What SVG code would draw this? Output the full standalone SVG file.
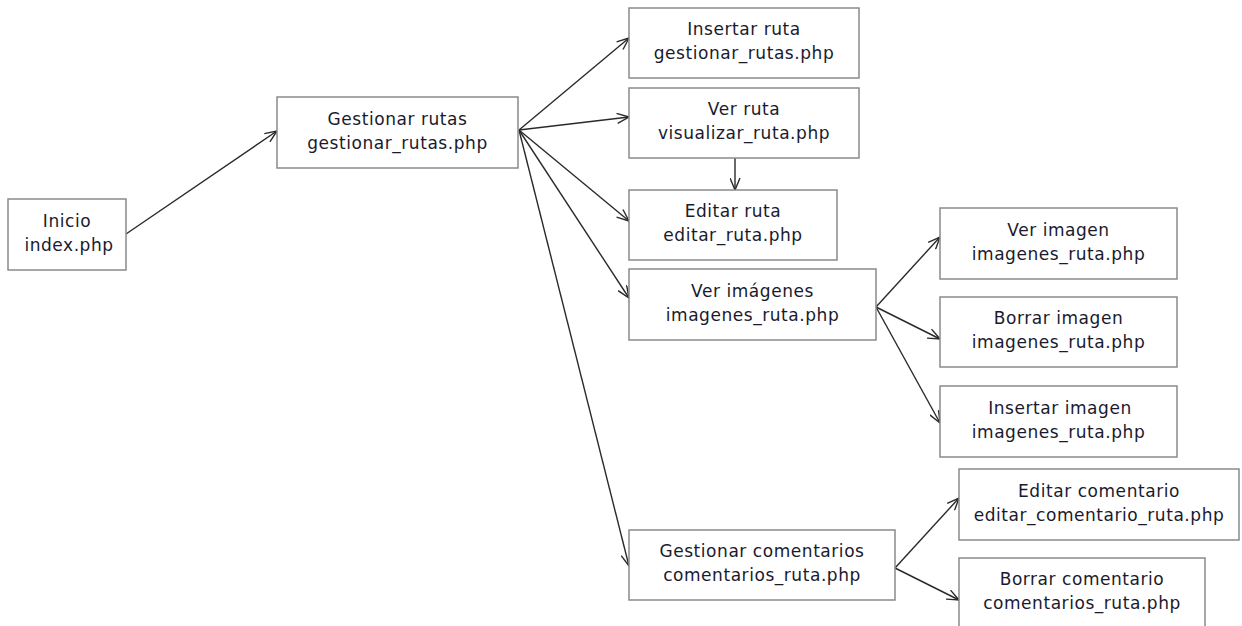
<svg xmlns="http://www.w3.org/2000/svg" width="1242" height="626" viewBox="0 0 1242 626">
<style>
.box{fill:#fff;stroke:#8a8a8a;stroke-width:1.5}
.t{font-family:"DejaVu Sans",Verdana,sans-serif;font-size:17px;fill:#1a1a2e;text-anchor:middle;letter-spacing:0.55px}
.c{fill:none;stroke:#2a2a2a;stroke-width:1.4}
</style>
<defs>
<marker id="ah" viewBox="0 0 13 11" refX="12.5" refY="5.5" markerWidth="13" markerHeight="11" markerUnits="userSpaceOnUse" orient="auto">
<path d="M0.5,0.5 L12.5,5.5 L0.5,10.5" fill="none" stroke="#2a2a2a" stroke-width="1.4"/>
</marker>
</defs>
<rect width="1242" height="626" fill="#fff"/>
<g id="connectors">
<line class="c" x1="126" y1="234" x2="277" y2="131" marker-end="url(#ah)"/>
<line class="c" x1="519" y1="130" x2="629" y2="38" marker-end="url(#ah)"/>
<line class="c" x1="519" y1="130" x2="629" y2="117" marker-end="url(#ah)"/>
<line class="c" x1="519" y1="130" x2="629" y2="221" marker-end="url(#ah)"/>
<line class="c" x1="519" y1="130" x2="629" y2="298" marker-end="url(#ah)"/>
<line class="c" x1="519" y1="130" x2="629" y2="566" marker-end="url(#ah)"/>
<line class="c" x1="735" y1="158" x2="735" y2="190" marker-end="url(#ah)"/>
<line class="c" x1="876" y1="307" x2="940" y2="237" marker-end="url(#ah)"/>
<line class="c" x1="876" y1="307" x2="940" y2="339" marker-end="url(#ah)"/>
<line class="c" x1="876" y1="307" x2="940" y2="423" marker-end="url(#ah)"/>
<line class="c" x1="895" y1="568" x2="959" y2="498" marker-end="url(#ah)"/>
<line class="c" x1="895" y1="568" x2="959" y2="600" marker-end="url(#ah)"/>
</g>
<g id="inicio">
<rect class="box" x="8" y="199" width="118" height="71"/>
<text class="t" x="67" y="226.5">Inicio</text>
<text class="t" x="69" y="250.5">index.php</text>
</g>
<g id="gestionar_rutas">
<rect class="box" x="277" y="97" width="241" height="71"/>
<text class="t" x="397.5" y="124.5">Gestionar rutas</text>
<text class="t" x="397.5" y="148.5">gestionar_rutas.php</text>
</g>
<g id="insertar_ruta">
<rect class="box" x="629" y="8" width="230" height="70"/>
<text class="t" x="744" y="35">Insertar ruta</text>
<text class="t" x="744" y="59">gestionar_rutas.php</text>
</g>
<g id="ver_ruta">
<rect class="box" x="629" y="88" width="230" height="70"/>
<text class="t" x="744" y="115">Ver ruta</text>
<text class="t" x="744" y="139">visualizar_ruta.php</text>
</g>
<g id="editar_ruta">
<rect class="box" x="629" y="190" width="208" height="70"/>
<text class="t" x="733" y="217">Editar ruta</text>
<text class="t" x="733" y="241">editar_ruta.php</text>
</g>
<g id="ver_imagenes">
<rect class="box" x="629" y="269" width="247" height="71"/>
<text class="t" x="752.5" y="296.5">Ver imágenes</text>
<text class="t" x="752.5" y="320.5">imagenes_ruta.php</text>
</g>
<g id="ver_imagen">
<rect class="box" x="940" y="208" width="237" height="71"/>
<text class="t" x="1058.5" y="235.5">Ver imagen</text>
<text class="t" x="1058.5" y="259.5">imagenes_ruta.php</text>
</g>
<g id="borrar_imagen">
<rect class="box" x="940" y="297" width="237" height="70"/>
<text class="t" x="1058.5" y="324">Borrar imagen</text>
<text class="t" x="1058.5" y="348">imagenes_ruta.php</text>
</g>
<g id="insertar_imagen">
<rect class="box" x="940" y="386" width="237" height="71"/>
<text class="t" x="1060" y="413.5">Insertar imagen</text>
<text class="t" x="1058.5" y="437.5">imagenes_ruta.php</text>
</g>
<g id="gestionar_comentarios">
<rect class="box" x="629" y="530" width="266" height="70"/>
<text class="t" x="762" y="557">Gestionar comentarios</text>
<text class="t" x="762" y="581">comentarios_ruta.php</text>
</g>
<g id="editar_comentario">
<rect class="box" x="959" y="469" width="280" height="71"/>
<text class="t" x="1099" y="496.5">Editar comentario</text>
<text class="t" x="1099" y="520.5">editar_comentario_ruta.php</text>
</g>
<g id="borrar_comentario">
<rect class="box" x="959" y="558" width="246" height="80"/>
<text class="t" x="1082" y="585">Borrar comentario</text>
<text class="t" x="1082" y="609">comentarios_ruta.php</text>
</g>
</svg>
